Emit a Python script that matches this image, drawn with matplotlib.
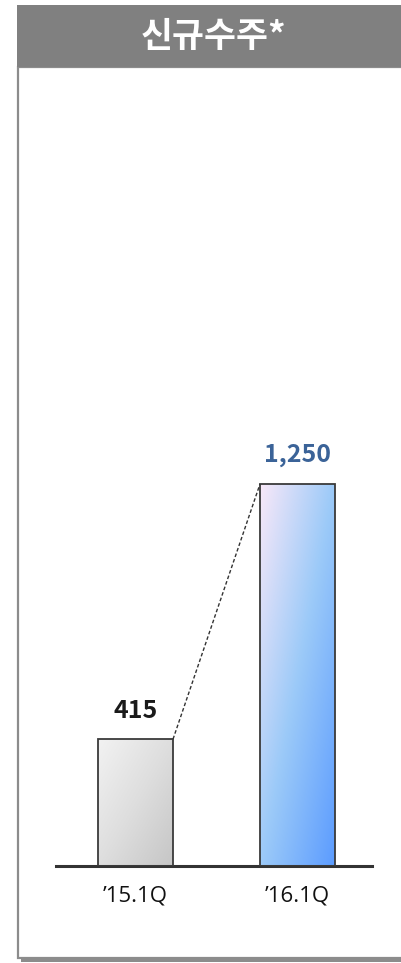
import numpy as np
import matplotlib.pyplot as plt
from matplotlib.patches import Rectangle
from matplotlib.colors import LinearSegmentedColormap

# ---------- data ----------
TITLE = '신규수주*'
PERIODS = ['’15.1Q', '’16.1Q']
ORDERS = [415, 1250]
VALUE_LABELS = ['415', '1,250']
VALUE_COLORS = ['#1a1a1a', '#3b6398']

# ---------- figure ----------
W, H = 402, 963
fig = plt.figure(figsize=(W / 100, H / 100), dpi=100)
fig.patch.set_facecolor('white')

def fx(px):
    return px / W

def fy(py):
    return 1 - py / H

# panel frame with shadow
fig.add_artist(Rectangle((fx(21), fy(962)), fx(402) - fx(21), fy(70) - fy(962),
                         transform=fig.transFigure, facecolor='#8c8c8c', edgecolor='none', zorder=0))
fig.add_artist(Rectangle((fx(18), fy(958)), fx(420) - fx(18), fy(67) - fy(958),
                         transform=fig.transFigure, facecolor='white', edgecolor='#8c8c8c',
                         linewidth=1.6, zorder=1))
# header band
fig.add_artist(Rectangle((fx(17), fy(67)), fx(420) - fx(17), fy(5) - fy(67),
                         transform=fig.transFigure, facecolor='#808080', edgecolor='none', zorder=2))
fig.text(fx(213), fy(37), TITLE, color='white', fontsize=25, fontweight='bold',
         family=['Noto Sans CJK KR', 'DejaVu Sans'], ha='center', va='center', zorder=3)

# ---------- bars ----------
ax = fig.add_axes([fx(56), fy(866), fx(372) - fx(56), fy(67) - fy(866)])
ax.set_zorder(5)
ax.patch.set_alpha(0)
ymax = 1250 * (866 - 67) / (866 - 484)
width = 0.463
x = np.arange(len(PERIODS))

cmaps = [
    LinearSegmentedColormap.from_list('g', ['#f2f2f2', '#dedede', '#c6c6c6']),
    LinearSegmentedColormap.from_list('b', ['#f8e8f8', '#9ccaf8', '#5c9cff']),
]

u, v = np.meshgrid(np.linspace(0, 1, 60), np.linspace(0, 1, 200))
grad = (u + v) / 2

bars = ax.bar(x, ORDERS, width=width, facecolor='none', edgecolor='#3a3a3a',
              linewidth=1.3, zorder=3)
for b, cm in zip(bars, cmaps):
    x0, w, h = b.get_x(), b.get_width(), b.get_height()
    im = ax.imshow(grad, cmap=cm, extent=[x0, x0 + w, 0, h], aspect='auto',
                   origin='upper', zorder=2, interpolation='bilinear')
    im.set_clip_path(b)
ax.set_ylim(0, ymax)
ax.set_xlim(-0.491, 1.46)

# dashed connector
b0, b1 = bars[0], bars[1]
ax.plot([b0.get_x() + b0.get_width(), b1.get_x()], [ORDERS[0], ORDERS[1]],
        linestyle=(0, (2.6, 1.6)), color='#333333', linewidth=1.0, zorder=4)

for xi, val, lab, col in zip(x, ORDERS, VALUE_LABELS, VALUE_COLORS):
    ax.annotate(lab, (xi, val), xytext=(0, 12), textcoords='offset points',
                ha='center', va='bottom', fontsize=18, fontweight='bold', color=col,
                family=['Noto Sans CJK KR', 'DejaVu Sans'])

for s in ['top', 'right', 'left']:
    ax.spines[s].set_visible(False)
ax.spines['bottom'].set_linewidth(2.2)
ax.spines['bottom'].set_color('#333333')
ax.set_yticks([])
ax.set_xticks(x)
ax.set_xticklabels(PERIODS, fontsize=16, family=['Open Sans', 'DejaVu Sans'], color='#111111')
ax.tick_params(axis='x', length=0, pad=14)

fig.savefig('out.png', dpi=100)
